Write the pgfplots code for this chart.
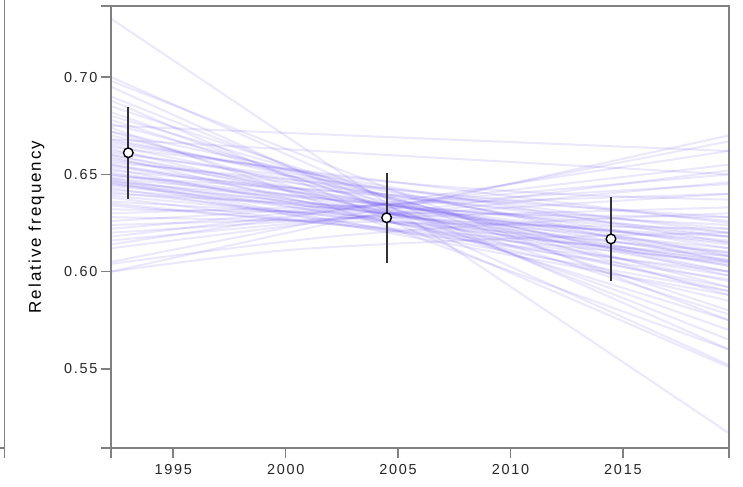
\documentclass[border=0pt]{standalone}
\usepackage{pgfplots}
\pgfplotsset{compat=1.18}
\usepackage{fontspec}
\setmainfont{Liberation Sans}
\newfontfamily\spaced[LetterSpace=12]{Liberation Sans}
\definecolor{post}{RGB}{112,88,238}
\definecolor{axgray}{RGB}{128,128,128}
\newcommand\pl[2]{\addplot[post, draw opacity=0.14, line width=2bp] coordinates {(1992.23,#1) (2019.72,#2)};}
\begin{document}
\begin{tikzpicture}
\path[use as bounding box] (-111bp,-39bp) rectangle (632bp,448bp);
\begin{axis}[
  scale only axis, width=618bp, height=442bp,
  xmin=1992.23, xmax=2019.72, ymin=0.5094, ymax=0.7365,
  xtick={1995,2000,2005,2010,2015}, ytick={0.55,0.60,0.65,0.70},
  /pgf/number format/assume math mode=true,
  x tick label style={/pgf/number format/1000 sep={}, yshift=-3bp},
  y tick label style={/pgf/number format/.cd,fixed,fixed zerofill,precision=2},
  tick align=outside, xtick pos=bottom, ytick pos=left, major tick length=10bp,
  tick style={axgray, line width=1.6bp},
  axis line style={axgray, line width=1.6bp},
  ticklabel style={font=\spaced\fontsize{14.5}{16}\selectfont, text=black!85},
  ylabel={Relative frequency},
  ylabel style={font=\spaced\fontsize{17}{19}\selectfont, at={(axis description cs:-0.1206,0.5)}, anchor=center},
  clip=true,
]
% core
\pl{0.665}{0.600}
\pl{0.662}{0.612}
\pl{0.660}{0.595}
\pl{0.658}{0.606}
\pl{0.657}{0.618}
\pl{0.655}{0.600}
\pl{0.654}{0.610}
\pl{0.652}{0.622}
\pl{0.651}{0.603}
\pl{0.650}{0.614}
\pl{0.648}{0.598}
\pl{0.647}{0.608}
\pl{0.646}{0.620}
\pl{0.645}{0.604}
\pl{0.644}{0.612}
\pl{0.643}{0.596}
\pl{0.642}{0.616}
\pl{0.641}{0.606}
\pl{0.640}{0.624}
\pl{0.639}{0.610}
\pl{0.638}{0.600}
\pl{0.663}{0.590}
\pl{0.661}{0.620}
\pl{0.659}{0.585}
\pl{0.656}{0.626}
\pl{0.653}{0.592}
\pl{0.649}{0.628}
\pl{0.646}{0.588}
\pl{0.668}{0.608}
\pl{0.670}{0.598}
\pl{0.667}{0.615}
\pl{0.672}{0.605}
\pl{0.664}{0.625}
\pl{0.636}{0.618}
\pl{0.634}{0.608}
\pl{0.645}{0.615}
\pl{0.655}{0.609}
\pl{0.650}{0.605}
\pl{0.660}{0.603}
\pl{0.648}{0.618}
\pl{0.647}{0.590}
\pl{0.635}{0.605}
% steep from upper left
\pl{0.730}{0.517}
\pl{0.700}{0.560}
\pl{0.698}{0.575}
\pl{0.695}{0.552}
\pl{0.690}{0.565}
\pl{0.688}{0.551}
\pl{0.685}{0.580}
\pl{0.682}{0.570}
\pl{0.680}{0.588}
\pl{0.678}{0.578}
\pl{0.676}{0.592}
\pl{0.674}{0.560}
\pl{0.672}{0.575}
% flat / rising
\pl{0.675}{0.662}
\pl{0.668}{0.650}
\pl{0.600}{0.670}
\pl{0.605}{0.667}
\pl{0.612}{0.652}
\pl{0.614}{0.662}
\pl{0.616}{0.646}
\pl{0.618}{0.655}
\pl{0.620}{0.640}
\pl{0.622}{0.650}
\pl{0.624}{0.633}
\pl{0.626}{0.645}
\pl{0.628}{0.622}
\pl{0.630}{0.640}
\pl{0.632}{0.628}
\addplot[post, draw opacity=0.14, line width=2bp, smooth] coordinates {(1992.23,0.600) (2000,0.611) (2010,0.617) (2019.72,0.620)};
\addplot[post, draw opacity=0.14, line width=2bp, smooth] coordinates {(1992.23,0.604) (2002,0.618) (2012,0.626) (2019.72,0.630)};
\addplot[post, draw opacity=0.14, line width=2bp, smooth] coordinates {(1992.23,0.666) (2003,0.648) (2012,0.640) (2019.72,0.637)};
% error bars
\addplot[only marks, mark=none, error bars/.cd, y dir=both, y explicit,
  error mark=none, error bar style={draw=black!80, line width=2bp}]
  coordinates {(1993.0,0.6611) +- (0,0.0237) (2004.49,0.6277) +- (0,0.0230) (2014.47,0.6168) +- (0,0.0218)};
\addplot[only marks, mark=*, mark size=4.8bp, mark options={fill=white, draw=black, line width=1.4bp}]
  coordinates {(1993.0,0.6611) (2004.49,0.6277) (2014.47,0.6168)};
\end{axis}
% outer ticks and neighbouring panel edge
\draw[axgray, line width=1.6bp] (-10bp,442bp) -- (0,442bp);
\draw[axgray, line width=1.6bp] (-10bp,0) -- (0,0) -- (0,-10bp);
\draw[axgray, line width=1.6bp] (618bp,0) -- (618bp,-10bp);
\draw[axgray, line width=1.6bp] (-106.5bp,448bp) -- (-106.5bp,-10bp);
\draw[axgray, line width=1.6bp] (-111bp,0) -- (-106.5bp,0);
\end{tikzpicture}
\end{document}
